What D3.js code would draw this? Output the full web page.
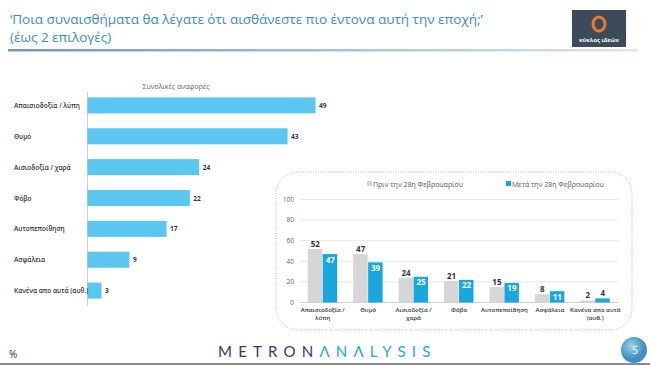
<!DOCTYPE html>
<html><head><meta charset="utf-8">
<script src="https://cdn.jsdelivr.net/npm/d3@7"></script>
<style>
html,body{margin:0;padding:0;background:#fff;}
svg{display:block;font-family:"Open Sans","Noto Sans",sans-serif;}
</style></head>
<body>
<svg id="c" width="650" height="366"></svg>
<script>
// ---- data ----
const totalCategories = ["Απαισιοδοξία / λύπη","Θυμό","Αισιοδοξία / χαρά","Φόβο","Αυτοπεποίθηση","Ασφάλεια","Κανένα απο αυτά (αυθ.)"];
const totalValues = [49,43,24,22,17,9,3];
const cmpCategories = [["Απαισιοδοξία /","λύπη"],["Θυμό"],["Αισιοδοξία /","χαρά"],["Φόβο"],["Αυτοπεποίθηση"],["Ασφάλεια"],["Κανένα απο αυτά","(αυθ.)"]];
const beforeValues = [52,47,24,21,15,8,2];
const afterValues = [47,39,25,22,19,11,4];
const seriesNames = ["Πριν την 28η Φεβρουαρίου","Μετά την 28η Φεβρουαρίου"];
const yTicks = [0,20,40,60,80,100];

const svg = d3.select("#c");

// ---- header ----
svg.append("text").attr("x",10).attr("y",24).attr("fill","#3a8cc9").attr("font-size",13.5)
  .attr("font-family","Open Sans, sans-serif")
  .text("‘Ποια συναισθήματα θα λέγατε ότι αισθάνεστε πιο έντονα αυτή την εποχή;’");
svg.append("text").attr("x",10).attr("y",42).attr("fill","#3a8cc9").attr("font-size",13.5)
  .attr("font-family","Open Sans, sans-serif")
  .text("(έως 2 επιλογές)");
const lg = svg.append("defs").append("linearGradient").attr("id","hl");
lg.append("stop").attr("offset","0%").attr("stop-color","#6f96b8");
lg.append("stop").attr("offset","100%").attr("stop-color","#dde6ee");
svg.append("rect").attr("x",8).attr("y",49).attr("width",630).attr("height",2.5).attr("fill","url(#hl)");

// logo
svg.append("rect").attr("x",572).attr("y",10).attr("width",54).attr("height",37).attr("fill","#3d4a59");
svg.append("ellipse").attr("cx",599).attr("cy",24).attr("rx",6).attr("ry",7).attr("fill","none")
  .attr("stroke","#e8782a").attr("stroke-width",3);
svg.append("text").attr("x",599).attr("y",42).attr("text-anchor","middle").attr("fill","#fff")
  .attr("font-size",5.8).attr("font-weight","bold").text("κύκλος ιδεών");

// ---- left chart ----
const lx = d3.scaleLinear().domain([0,49]).range([87,315]);
const ly = d3.scaleBand().domain(totalCategories).range([90,306]).paddingInner(0.48).paddingOuter(0.24);
svg.append("text").attr("x",176).attr("y",89).attr("text-anchor","middle").attr("fill","#666")
  .attr("font-size",7).text("Συνολικές αναφορές");
svg.append("line").attr("x1",87.5).attr("x2",87.5).attr("y1",92).attr("y2",306).attr("stroke","#d0d0d0");
const lb = svg.append("g");
lb.selectAll("rect").data(totalValues).join("rect")
  .attr("x",lx(0)+0.5).attr("y",(d,i)=>ly(totalCategories[i]))
  .attr("width",d=>lx(d)-lx(0)).attr("height",ly.bandwidth()).attr("fill","#5bc7f0");
lb.selectAll("text.v").data(totalValues).join("text").attr("class","v")
  .attr("x",d=>lx(d)+4).attr("y",(d,i)=>ly(totalCategories[i])+ly.bandwidth()/2+2.5)
  .attr("font-size",6.5).attr("font-weight","bold").attr("fill","#333").text(d=>d);
lb.selectAll("text.c").data(totalCategories).join("text").attr("class","c")
  .attr("x",14).attr("y",d=>ly(d)+ly.bandwidth()/2+2.5)
  .attr("font-size",6.5).attr("font-weight","600").attr("fill","#333").text(d=>d);

// ---- right chart panel ----
svg.append("rect").attr("x",276).attr("y",172).attr("width",356).attr("height",158).attr("rx",22)
  .attr("fill","none").attr("stroke","#a8a8a8").attr("stroke-width",0.9).attr("stroke-dasharray","1,1.5");

const ry = d3.scaleLinear().domain([0,100]).range([302.5,199.5]);
const rx = d3.scaleBand().domain(d3.range(cmpCategories.length)).range([300,618]).paddingInner(0.34).paddingOuter(0.17);
const sx = d3.scaleBand().domain([0,1]).range([0,rx.bandwidth()]);

const grid = svg.append("g");
grid.selectAll("line").data(yTicks).join("line")
  .attr("x1",300).attr("x2",618).attr("y1",d=>ry(d)).attr("y2",d=>ry(d))
  .attr("stroke",d=>d===0?"#cfcfcf":"#e6e6e6").attr("stroke-width",1);
grid.selectAll("text").data(yTicks).join("text")
  .attr("x",294).attr("y",d=>ry(d)+2.3).attr("text-anchor","end")
  .attr("font-size",6.5).attr("fill","#666").text(d=>d);

// legend
svg.append("rect").attr("x",367).attr("y",181).attr("width",5).attr("height",5).attr("fill","#d6d6d6");
svg.append("text").attr("x",373).attr("y",186.5).attr("font-size",7).attr("fill","#555").text(seriesNames[0]);
svg.append("rect").attr("x",506).attr("y",181).attr("width",5).attr("height",5).attr("fill","#1aa7e0");
svg.append("text").attr("x",512).attr("y",186.5).attr("font-size",7).attr("fill","#555").text(seriesNames[1]);

const bars = svg.append("g");
const series = [beforeValues, afterValues];
const colors = ["#d6d6d6","#1aa7e0"];
series.forEach((vals,s)=>{
  bars.append("g").selectAll("rect").data(vals).join("rect")
    .attr("x",(d,i)=>rx(i)+sx(s)).attr("y",d=>ry(d))
    .attr("width",sx.bandwidth()-0.5).attr("height",d=>ry(0)-ry(d)).attr("fill",colors[s]);
});
bars.append("g").selectAll("text").data(beforeValues).join("text")
  .attr("x",(d,i)=>rx(i)+sx(0)+sx.bandwidth()/2).attr("y",d=>ry(d)-2)
  .attr("text-anchor","middle").attr("font-size",8).attr("font-weight","bold").attr("fill","#333").text(d=>d);
bars.append("g").selectAll("text").data(afterValues).join("text")
  .attr("x",(d,i)=>rx(i)+sx(1)+sx.bandwidth()/2)
  .attr("y",d=>d>=8?ry(d)+8.5:ry(d)-2)
  .attr("text-anchor","middle").attr("font-size",8).attr("font-weight","bold")
  .attr("fill",d=>d>=8?"#fff":"#333").text(d=>d);
const cl = bars.append("g");
cmpCategories.forEach((lines,i)=>{
  lines.forEach((t,j)=>{
    cl.append("text").attr("x",rx(i)+rx.bandwidth()/2).attr("y",312+j*7.5)
      .attr("text-anchor","middle").attr("font-size",6).attr("font-weight","600").attr("fill","#333").text(t);
  });
});

// ---- footer ----
svg.append("text").attr("x",9).attr("y",358).attr("font-size",10).attr("fill","#333").text("%");
const ft = svg.append("text").attr("x",218).attr("y",357).attr("font-size",15).attr("letter-spacing",6.2)
  .attr("font-family","Lato, Open Sans, sans-serif");
ft.append("tspan").attr("fill","#2c3b6e").text("METRON");
ft.append("tspan").attr("fill","#2aa8b8").text("ΛNΛLYSIS");
const rg = svg.select("defs").append("radialGradient").attr("id","pg").attr("cx","40%").attr("cy","35%");
rg.append("stop").attr("offset","0%").attr("stop-color","#9fd3ea");
rg.append("stop").attr("offset","100%").attr("stop-color","#3d8fc0");
svg.append("circle").attr("cx",634).attr("cy",350).attr("r",13).attr("fill","url(#pg)");
svg.append("text").attr("x",635).attr("y",354).attr("text-anchor","middle").attr("font-size",10).attr("fill","#fff").text("5");
svg.append("rect").attr("x",0).attr("y",363).attr("width",650).attr("height",2).attr("fill","#8a8a8a");
</script>
</body></html>
